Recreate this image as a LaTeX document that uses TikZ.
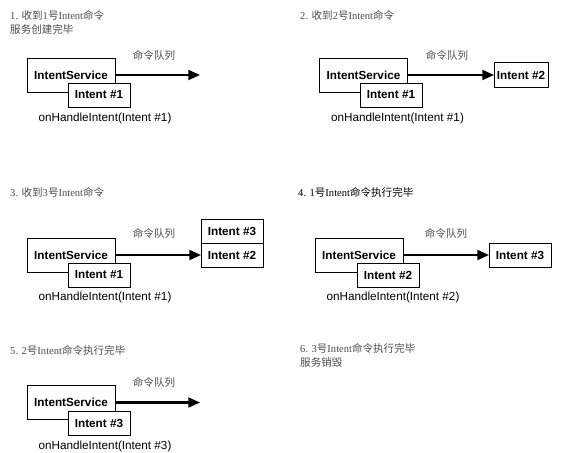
\documentclass[tikz,border=0pt]{standalone}
\usepackage{fontspec}
\setmainfont{Liberation Serif}
\setsansfont{Liberation Sans}
\newfontfamily\cjk{Noto Sans CJK SC}
\newcommand{\zh}[1]{{\cjk #1}}
\usetikzlibrary{arrows.meta,positioning}

\begin{document}
\begin{tikzpicture}[x=0.03cm,y=-0.03cm,
  svcbox/.style={draw,line width=0.8pt,fill=white,minimum width=2.64cm,minimum height=1.02cm,
    inner sep=0pt,outer sep=0pt,font=\sffamily\bfseries\fontsize{10}{12}\selectfont},
  jobbox/.style={svcbox,minimum width=1.86cm,minimum height=0.72cm},
  flow/.style={line width=1.8pt,-{Triangle[length=10pt,width=8.5pt]}},
  steptitle/.style={anchor=north west,inner sep=0pt,align=left,text=black!70,
    font=\fontsize{9}{12.5}\selectfont},
  queuelabel/.style={text=black!70,font=\cjk\fontsize{9}{11}\selectfont},
  calltext/.style={font=\sffamily\fontsize{10}{12}\selectfont}]
\useasboundingbox (0,0) rectangle (566,453);

% 1
\node[steptitle] (t1) at (10,10) {1. \zh{收到}1\zh{号}Intent\zh{命令}\\\zh{服务创建完毕}};
\node[svcbox] (svc1) at (71,75) {IntentService};
\coordinate (end1) at (200,75);
\draw[flow] (svc1.east) -- (end1);
\node[jobbox] (job1) at (99,95) {Intent \#1};
\node[queuelabel] (ql1) at (154,55) {命令队列};
\node[calltext] (call1) at (105,118) {onHandleIntent(Intent \#1)};

% 2
\node[steptitle] (t2) at (300,10) {2. \zh{收到}2\zh{号}Intent\zh{命令}};
\node[svcbox] (svc2) at (363.5,75) {IntentService};
\node[jobbox,minimum width=1.62cm,minimum height=0.75cm] (q2a) at (521,75) {Intent \#2};
\draw[flow] (svc2.east) -- (q2a.west);
\node[jobbox] (job2) at (391,95) {Intent \#1};
\node[queuelabel] (ql2) at (447,55) {命令队列};
\node[calltext] (call2) at (397.5,118) {onHandleIntent(Intent \#1)};

% 3
\node[steptitle] (t3) at (10,187) {3. \zh{收到}3\zh{号}Intent\zh{命令}};
\node[svcbox] (svc3) at (71,255) {IntentService};
\node[jobbox] (q3b) at (232,255) {Intent \#2};
\node[jobbox,above=0pt of q3b] (q3a) {Intent \#3};
\draw[flow] (svc3.east) -- (q3b.west);
\node[jobbox] (job3) at (99,275) {Intent \#1};
\node[queuelabel] (ql3) at (154,233) {命令队列};
\node[calltext] (call3) at (105,297) {onHandleIntent(Intent \#1)};

% 4
\node[steptitle,text=black] (t4) at (298,187) {4. 1\zh{号}Intent\zh{命令执行完毕}};
\node[svcbox] (svc4) at (359,255) {IntentService};
\node[jobbox] (q4a) at (520,255) {Intent \#3};
\draw[flow] (svc4.east) -- (q4a.west);
\node[jobbox] (job4) at (388,275) {Intent \#2};
\node[queuelabel] (ql4) at (446,233) {命令队列};
\node[calltext] (call4) at (393,297) {onHandleIntent(Intent \#2)};

% 5
\node[steptitle] (t5) at (10,345) {5. 2\zh{号}Intent\zh{命令执行完毕}};
\node[svcbox] (svc5) at (71,402.5) {IntentService};
\coordinate (end5) at (200,402.5);
\draw[flow] (svc5.east) -- (end5);
\node[jobbox] (job5) at (99,423.5) {Intent \#3};
\node[queuelabel] (ql5) at (154,382) {命令队列};
\node[calltext] (call5) at (105,446) {onHandleIntent(Intent \#3)};

% 6
\node[steptitle] (t6) at (300,343) {6. 3\zh{号}Intent\zh{命令执行完毕}\\\zh{服务销毁}};
\end{tikzpicture}
\end{document}
